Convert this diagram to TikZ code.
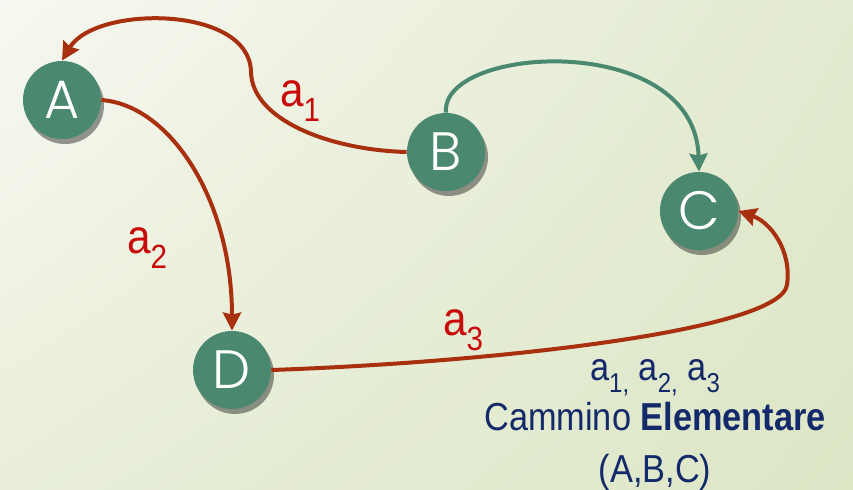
\documentclass[tikz,border=0pt]{standalone}
\usepackage{fontspec}
\setmainfont{Liberation Sans}[FakeStretch=0.88]
\newfontfamily\gothic{Poppins}[UprightFont=* Light]
\usetikzlibrary{positioning,arrows.meta,shadows,shadings}
\definecolor{leaf}  {HTML}{4A8870}
\definecolor{rust}  {HTML}{A8300F}
\definecolor{cherry}{HTML}{C80A0A}
\definecolor{navy}  {HTML}{13296A}
\definecolor{bgtl}  {HTML}{F7F8F1}
\definecolor{bgtr}  {HTML}{E2EACF}
\definecolor{bgbl}  {HTML}{E9EFDA}
\definecolor{bgbr}  {HTML}{DCE6C5}
% subscript in the text font
\newcommand{\pedice}[1]{\raisebox{-0.33em}{\scalebox{0.7}{#1}}}
\tikzset{
  >={Stealth[length=9pt,width=9pt,inset=1pt]},
  % --- nodes
  vertex/.style = {circle, fill=leaf, minimum size=39pt, inner sep=0pt,
                   text=white, font=\gothic\fontsize{27}{27}\selectfont,
                   drop shadow={shadow xshift=1.5pt, shadow yshift=-2.5pt,
                                opacity=0.4, fill=black}},
  tag/.style    = {font=\fontsize{24}{24}\selectfont, text=cherry, anchor=base},
  note/.style   = {font=\fontsize{19.5}{22}\selectfont, text=navy, anchor=base},
  % --- edges
  arc/.style    = {->, line width=2pt, draw=rust},
  arcg/.style   = {arc, draw=leaf},
}
\begin{document}
\begin{tikzpicture}[x=0.5pt, y=-0.5pt]
  \useasboundingbox (0,0) rectangle (853,489);
  \shade[upper left=bgtl, upper right=bgtr, lower left=bgbl, lower right=bgbr]
    (0,0) rectangle (853,489);

  \node[vertex] (A) at (62,100)  {A};
  \node[vertex] (B) at (446,152) {B};
  \node[vertex] (C) at (699,211) {C};
  \node[vertex] (D) at (232,370) {D};

  \draw[arc]  (B.west) .. controls (330,150) and (252,120) .. (251,72)
              .. controls (250,5) and (95,5) .. (A.north);
  \draw[arc]  (A.east) .. controls (170,105) and (232,200) .. (D.north);
  \draw[arc]  (D.east) .. controls (500,362) and (780,330) .. (787,285)
              .. controls (792,250) and (770,222) .. (C.east);
  \draw[arcg] (B.north) .. controls (440,45) and (695,30) .. (C.north);

  \node[tag] (a1) at (300,106) {a\pedice{1}};
  \node[tag] (a2) at (147,253) {a\pedice{2}};
  \node[tag] (a3) at (463,335) {a\pedice{3}};

  \node[note] (seq)  at (655,380) {a\pedice{1,} a\pedice{2,} a\pedice{3}};
  \node[note] (kind) at (655,430) {Cammino \textbf{Elementare}};
  \node[note] (path) at (655,482) {(A,B,C)};
\end{tikzpicture}
\end{document}
